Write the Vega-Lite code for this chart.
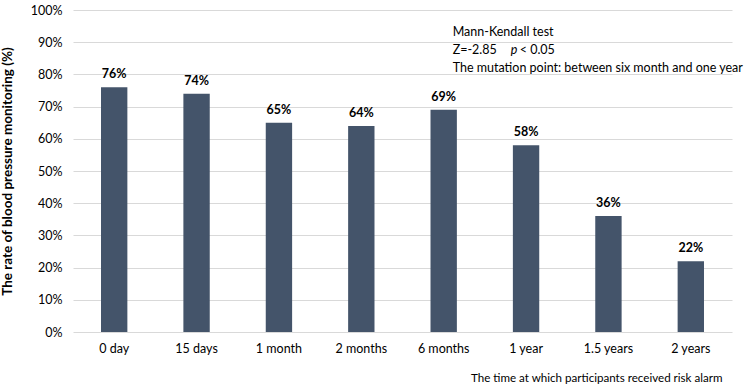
{
  "$schema": "https://vega.github.io/schema/vega-lite/v6.json",
  "width": 659,
  "height": 322,
  "autosize": {"type": "none"},
  "padding": {"left": 73, "top": 10, "right": 18, "bottom": 56},
  "background": "white",
  "config": {
    "font": "Lato",
    "view": {"stroke": null},
    "axis": {"labelFont": "Lato", "titleFont": "Lato", "labelColor": "#000", "titleColor": "#000"},
    "axisY": {"labelOverlap": false, "format": ".0%", "labelFontSize": 12.5, "labelPadding": 11, "ticks": false, "domain": false, "grid": true, "gridColor": "#d9d9d9", "gridWidth": 1, "titleFontSize": 13.5, "titleFontWeight": "bold", "titlePadding": 16}
  },
  "layer": [
    {
      "data": {
        "values": [
          {"time": "0 day", "rate": 0.76},
          {"time": "15 days", "rate": 0.74},
          {"time": "1 month", "rate": 0.65},
          {"time": "2 months", "rate": 0.64},
          {"time": "6 months", "rate": 0.69},
          {"time": "1 year", "rate": 0.58},
          {"time": "1.5 years", "rate": 0.36},
          {"time": "2 years", "rate": 0.22}
        ]
      },
      "encoding": {
        "x": {
          "field": "time", "type": "nominal", "sort": null,
          "scale": {"paddingInner": 0.68, "paddingOuter": 0.34},
          "axis": {
            "labelAngle": 0, "labelFontSize": 12.5, "labelPadding": 10,
            "ticks": false, "domain": false,
            "title": "The time at which participants received risk alarm",
            "titleFontSize": 11.6, "titleFontWeight": "normal",
            "titleAnchor": "start", "titleAlign": "right", "titleX": 649, "titlePadding": 18
          }
        },
        "y": {
          "field": "rate", "type": "quantitative",
          "scale": {"domain": [0, 1]},
          "axis": {
            "values": [0,0.1,0.2,0.3,0.4,0.5,0.6,0.7,0.8,0.9,1],
            "title": "The rate of blood pressure monitoring (%)"
          }
        }
      },
      "layer": [
        {"mark": {"type": "bar", "color": "#44546a"}},
        {
          "mark": {"type": "text", "baseline": "bottom", "dy": -6, "fontSize": 12.5, "fontWeight": "bold", "color": "#000"},
          "encoding": {"text": {"field": "rate", "type": "quantitative", "format": ".0%"}}
        }
      ]
    },
    {
      "data": {"values": [{"line": "Mann-Kendall test"}]},
      "mark": {"type": "text", "align": "left", "baseline": "middle", "dx": 9, "fontSize": 12.5, "fontWeight": "normal", "color": "#000"},
      "encoding": {"x": {"datum": "6 months"}, "y": {"datum": 0.932, "axis": {"values": [0,0.1,0.2,0.3,0.4,0.5,0.6,0.7,0.8,0.9,1]}}, "text": {"field": "line"}}
    },
    {
      "data": {"values": [{"line": "Z=-2.85"}]},
      "mark": {"type": "text", "align": "left", "baseline": "middle", "dx": 9, "fontSize": 12.5, "fontWeight": "normal", "color": "#000"},
      "encoding": {"x": {"datum": "6 months"}, "y": {"datum": 0.876, "axis": {"values": [0,0.1,0.2,0.3,0.4,0.5,0.6,0.7,0.8,0.9,1]}}, "text": {"field": "line"}}
    },
    {
      "data": {"values": [{"line": "p"}]},
      "mark": {"type": "text", "align": "left", "baseline": "middle", "dx": 67, "fontSize": 12.5, "fontWeight": "normal", "fontStyle": "italic", "color": "#000"},
      "encoding": {"x": {"datum": "6 months"}, "y": {"datum": 0.876, "axis": {"values": [0,0.1,0.2,0.3,0.4,0.5,0.6,0.7,0.8,0.9,1]}}, "text": {"field": "line"}}
    },
    {
      "data": {"values": [{"line": "<  0.05"}]},
      "mark": {"type": "text", "align": "left", "baseline": "middle", "dx": 76, "fontSize": 12.5, "fontWeight": "normal", "color": "#000"},
      "encoding": {"x": {"datum": "6 months"}, "y": {"datum": 0.876, "axis": {"values": [0,0.1,0.2,0.3,0.4,0.5,0.6,0.7,0.8,0.9,1]}}, "text": {"field": "line"}}
    },
    {
      "data": {"values": [{"line": "The mutation point: between six month and one year"}]},
      "mark": {"type": "text", "align": "left", "baseline": "middle", "dx": 9, "fontSize": 12.5, "fontWeight": "normal", "color": "#000"},
      "encoding": {"x": {"datum": "6 months"}, "y": {"datum": 0.82, "axis": {"values": [0,0.1,0.2,0.3,0.4,0.5,0.6,0.7,0.8,0.9,1]}}, "text": {"field": "line"}}
    }
  ]
}
